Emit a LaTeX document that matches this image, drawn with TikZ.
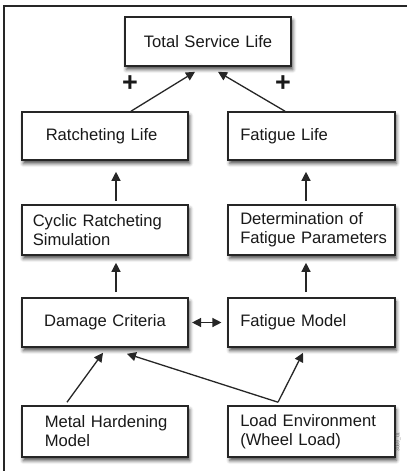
\documentclass[tikz,border=0pt]{standalone}
\usepackage{fontspec}
\setmainfont{Liberation Sans}
\usetikzlibrary{arrows.meta,shadows.blur}
\tikzset{
  box/.style={draw=black!85, line width=1.6pt, fill=white, text=black!90,
    font=\fontsize{16.6}{19}\selectfont, align=left, inner ysep=0pt,
    minimum height=49pt,
    blur shadow={shadow xshift=1.5pt, shadow yshift=-3.5pt, shadow blur radius=3.5pt, shadow opacity=70}},
  pad/.style={inner xsep=#1pt},
  arr/.style={draw=black!85, line width=1.3pt, -{Triangle[length=9pt,width=9pt]}},
  darr/.style={draw=black!85, line width=1.3pt, {Triangle[length=9pt,width=9pt]}-{Triangle[length=9pt,width=9pt]}},
  plus/.style={font=\fontsize{27}{28}\bfseries, text=black!90, inner sep=0pt},
  tag/.style={font=\fontsize{5}{6}\selectfont, text=black!60, rotate=90, inner sep=0pt}
}
\begin{document}
\begin{tikzpicture}[x=1pt,y=-1pt]
\useasboundingbox (0,0) rectangle (407,471);
% frame (top and left edges)
\draw[black!85, line width=1.6pt] (4,471) -- (4,6) -- (407,6);

\node[box, pad=10, text width=146.5pt, align=center] (tot) at (208,41.5) {Total Service Life};
\node[box, pad=24, text width=118.5pt, minimum height=48pt] (rat) at (105,136) {Ratcheting Life};
\node[box, pad=12, text width=142.5pt, minimum height=48pt] (fat) at (311.5,136) {Fatigue Life};
\node[box, pad=11, text width=144.5pt, minimum height=50pt] (cyc) at (105,230) {\mbox{Cyclic Ratcheting}\\Simulation};
\node[box, pad=12, text width=142.5pt, minimum height=50pt] (det) at (311.5,230) {Determination of\\\mbox{Fatigue Parameters}};
\node[box, pad=20, text width=126.5pt, align=center] (dam) at (105,322.5) {\mbox{Damage Criteria}};
\node[box, pad=12, text width=142.5pt] (fmod) at (311.5,322.5) {Fatigue Model};
\node[box, pad=23, text width=120.5pt, minimum height=51pt] (met) at (105,431.5) {\mbox{Metal Hardening}\\Model};
\node[box, pad=12, text width=142.5pt, minimum height=51pt] (load) at (311.5,431.5) {\mbox{Load Environment}\\(Wheel Load)};

\node[plus] (p1) at (130,84) {+};
\node[plus] (p2) at (283,84) {+};
\node[tag] (id) at (398,442) {3069\_01};

\draw[arr] ([xshift=26pt]rat.north) -- ([xshift=-13pt,yshift=-5pt]tot.south);
\draw[arr] ([xshift=-26.5pt]fat.north) -- ([xshift=10pt,yshift=-5pt]tot.south);
\draw[arr] ([xshift=11pt,yshift=3pt]cyc.north) -- ([xshift=11pt,yshift=-11pt]rat.south);
\draw[arr] ([xshift=-5.5pt,yshift=3pt]det.north) -- ([xshift=-5.5pt,yshift=-11pt]fat.south);
\draw[arr] ([xshift=11pt,yshift=5pt]dam.north) -- ([xshift=11pt,yshift=-7pt]cyc.south);
\draw[arr] ([xshift=-5.5pt,yshift=5pt]fmod.north) -- ([xshift=-5.5pt,yshift=-7pt]det.south);
\draw[darr] ([xshift=3pt]dam.east) -- ([xshift=-6pt]fmod.west);
\coordinate (lsrc) at ([xshift=-33.5pt,yshift=3pt]load.north);
\draw[arr] ([xshift=-38pt,yshift=3pt]met.north) -- ([xshift=-2pt,yshift=-5pt]dam.south);
\draw[arr] (lsrc) -- ([xshift=22pt,yshift=-6pt]dam.south);
\draw[arr] (lsrc) -- ([xshift=-8.5pt,yshift=-5pt]fmod.south);
\end{tikzpicture}
\end{document}
